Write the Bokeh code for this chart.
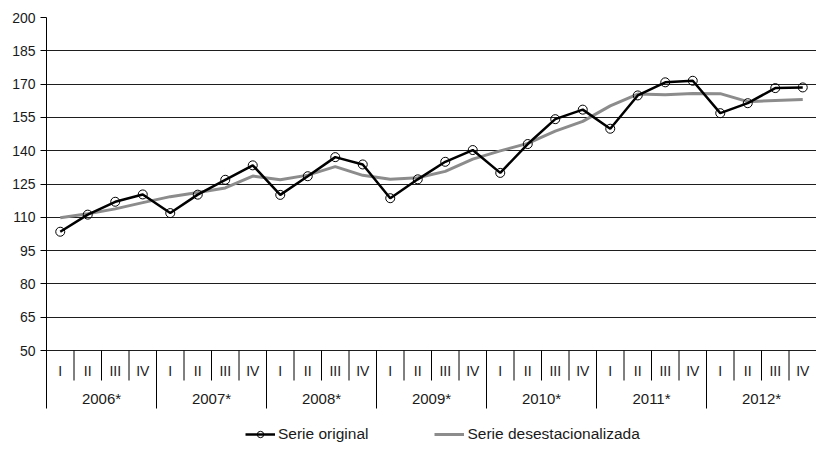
from bokeh.plotting import figure
from bokeh.models import Range1d, FixedTicker, Legend, LegendItem, ColumnDataSource
from bokeh.core.properties import value
from bokeh.embed import file_html
from bokeh.resources import INLINE

# ---- data ----
years = ["2006*", "2007*", "2008*", "2009*", "2010*", "2011*", "2012*"]
quarters = ["I", "II", "III", "IV"]
serie_original = [103.5, 111.2, 117.0, 120.3,
                  111.9, 120.2, 126.9, 133.4,
                  120.1, 128.5, 137.1, 133.8,
                  118.6, 127.1, 135.0, 140.3,
                  130.0, 143.0, 154.2, 158.5,
                  149.9, 164.9, 170.8, 171.5,
                  156.9, 161.4, 168.2, 168.5]
serie_desest = [109.8, 111.6, 113.8, 116.6,
                119.3, 121.2, 123.2, 128.6,
                126.9, 129.0, 132.8, 128.9,
                127.1, 127.8, 130.7, 136.2,
                139.9, 143.3, 148.8, 153.2,
                160.2, 165.5, 165.2, 165.8,
                165.7, 162.1, 162.6, 163.1]
y_ticks = [50, 65, 80, 95, 110, 125, 140, 155, 170, 185, 200]

FONT = "Liberation Sans"
n = len(serie_original)
xc = [i + 0.5 for i in range(n)]
q_labels = [quarters[i % 4] for i in range(n)]
year_x = [j * 4 + 2 for j in range(len(years))]

W, H = 816, 445
TOP, LEFT = 17, 46
PXU = 333 / 150.0            # pixels per y unit (200 -> 50 spans 333 px)
y_min = 50 - (H - TOP - 333) / PXU   # frame extends below the 50 line for category labels

p = figure(width=W, height=H, output_backend="svg", toolbar_location=None,
           x_axis_location=None, min_border_left=LEFT, min_border_right=0,
           min_border_top=TOP, min_border_bottom=0,
           x_range=Range1d(0, n), y_range=Range1d(y_min, 200))
p.outline_line_color = None
p.background_fill_color = "white"
p.border_fill_color = "white"

# y axis
ya = p.yaxis[0]
ya.ticker = FixedTicker(ticks=y_ticks)
ya.bounds = (50 - 58 / PXU, 200)
ya.major_tick_out = 6
ya.major_tick_in = 0
ya.minor_tick_line_color = None
ya.axis_line_color = "black"
ya.major_tick_line_color = "black"
ya.major_label_text_font = FONT
ya.major_label_text_font_size = "14px"
ya.major_label_text_color = "#1a1a1a"
ya.major_label_standoff = 5

p.xgrid.visible = False
p.ygrid.ticker = FixedTicker(ticks=y_ticks)
p.ygrid.grid_line_color = "#1e1e1e"
p.ygrid.grid_line_width = 1

# category separators and labels (below the 50 baseline)
q_sep = [float(k) for k in range(1, n) if k % 4 != 0]
y_sep = [float(k) for k in range(4, n, 4)]
p.segment(x0=q_sep, y0=[50] * len(q_sep), x1=q_sep, y1=[50 - 30 / PXU] * len(q_sep),
          line_color="black", line_width=1)
p.segment(x0=y_sep, y0=[50] * len(y_sep), x1=y_sep, y1=[50 - 58 / PXU] * len(y_sep),
          line_color="black", line_width=1)
p.text(x=xc, y=[50 - 20 / PXU] * n, text=q_labels, text_font=value(FONT),
       text_font_size="14px", text_align="center", text_baseline="middle",
       text_color="#1a1a1a")
p.text(x=year_x, y=[50 - 48 / PXU] * len(years), text=years, text_font=value(FONT),
       text_font_size="15px", text_align="center", text_baseline="middle",
       text_color="#1a1a1a")

# series
src = ColumnDataSource(dict(x=xc, orig=serie_original, des=serie_desest))
r_des = p.line("x", "des", source=src, line_color="#8c8c8c", line_width=3)
r_orig = p.line("x", "orig", source=src, line_color="black", line_width=2.5)
r_pts = p.scatter("x", "orig", source=src, marker="circle", size=9,
                  fill_color=None, line_color="black", line_width=1)

legend = Legend(items=[LegendItem(label="Serie original", renderers=[r_orig, r_pts]),
                       LegendItem(label="Serie desestacionalizada", renderers=[r_des])],
                orientation="horizontal", location=(199, 2),
                glyph_width=30, glyph_height=16, label_height=16,
                label_standoff=3, spacing=66, padding=0, margin=0,
                border_line_color=None, background_fill_alpha=0,
                label_text_font=FONT, label_text_font_size="15.5px",
                label_text_color="#1a1a1a")
p.add_layout(legend)

open("out.html", "w").write(file_html(p, INLINE))
